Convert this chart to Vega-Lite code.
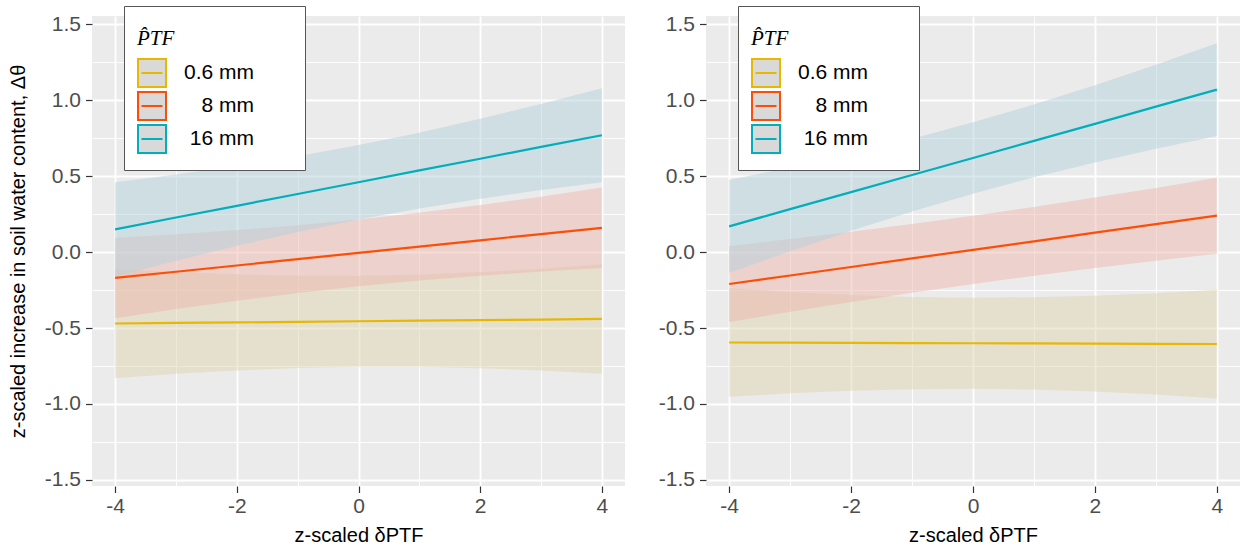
{
  "$schema": "https://vega.github.io/schema/vega-lite/v6.json",
  "background": "white",
  "padding": {"left": 8, "top": 5, "right": 0, "bottom": 0},
  "datasets": {
    "d": [
      {"p": "a", "g": "0.6 mm", "x": -4, "fit": -0.47, "lo": -0.83, "hi": -0.11},
      {"p": "a", "g": "0.6 mm", "x": -3, "fit": -0.466, "lo": -0.801, "hi": -0.131},
      {"p": "a", "g": "0.6 mm", "x": -2, "fit": -0.463, "lo": -0.779, "hi": -0.146},
      {"p": "a", "g": "0.6 mm", "x": -1, "fit": -0.459, "lo": -0.763, "hi": -0.155},
      {"p": "a", "g": "0.6 mm", "x": 0, "fit": -0.455, "lo": -0.755, "hi": -0.155},
      {"p": "a", "g": "0.6 mm", "x": 1, "fit": -0.451, "lo": -0.755, "hi": -0.147},
      {"p": "a", "g": "0.6 mm", "x": 2, "fit": -0.448, "lo": -0.764, "hi": -0.131},
      {"p": "a", "g": "0.6 mm", "x": 3, "fit": -0.444, "lo": -0.779, "hi": -0.109},
      {"p": "a", "g": "0.6 mm", "x": 4, "fit": -0.44, "lo": -0.8, "hi": -0.08},
      {"p": "a", "g": "8 mm", "x": -4, "fit": -0.17, "lo": -0.435, "hi": 0.095},
      {"p": "a", "g": "8 mm", "x": -3, "fit": -0.129, "lo": -0.375, "hi": 0.118},
      {"p": "a", "g": "8 mm", "x": -2, "fit": -0.088, "lo": -0.32, "hi": 0.145},
      {"p": "a", "g": "8 mm", "x": -1, "fit": -0.046, "lo": -0.269, "hi": 0.177},
      {"p": "a", "g": "8 mm", "x": 0, "fit": -0.005, "lo": -0.225, "hi": 0.215},
      {"p": "a", "g": "8 mm", "x": 1, "fit": 0.036, "lo": -0.187, "hi": 0.259},
      {"p": "a", "g": "8 mm", "x": 2, "fit": 0.078, "lo": -0.155, "hi": 0.31},
      {"p": "a", "g": "8 mm", "x": 3, "fit": 0.119, "lo": -0.128, "hi": 0.365},
      {"p": "a", "g": "8 mm", "x": 4, "fit": 0.16, "lo": -0.105, "hi": 0.425},
      {"p": "a", "g": "16 mm", "x": -4, "fit": 0.15, "lo": -0.16, "hi": 0.46},
      {"p": "a", "g": "16 mm", "x": -3, "fit": 0.228, "lo": -0.056, "hi": 0.511},
      {"p": "a", "g": "16 mm", "x": -2, "fit": 0.305, "lo": 0.042, "hi": 0.568},
      {"p": "a", "g": "16 mm", "x": -1, "fit": 0.383, "lo": 0.133, "hi": 0.632},
      {"p": "a", "g": "16 mm", "x": 0, "fit": 0.46, "lo": 0.215, "hi": 0.705},
      {"p": "a", "g": "16 mm", "x": 1, "fit": 0.538, "lo": 0.288, "hi": 0.787},
      {"p": "a", "g": "16 mm", "x": 2, "fit": 0.615, "lo": 0.352, "hi": 0.878},
      {"p": "a", "g": "16 mm", "x": 3, "fit": 0.693, "lo": 0.409, "hi": 0.976},
      {"p": "a", "g": "16 mm", "x": 4, "fit": 0.77, "lo": 0.46, "hi": 1.08},
      {"p": "b", "g": "0.6 mm", "x": -4, "fit": -0.595, "lo": -0.953, "hi": -0.237},
      {"p": "b", "g": "0.6 mm", "x": -3, "fit": -0.596, "lo": -0.93, "hi": -0.262},
      {"p": "b", "g": "0.6 mm", "x": -2, "fit": -0.598, "lo": -0.913, "hi": -0.282},
      {"p": "b", "g": "0.6 mm", "x": -1, "fit": -0.599, "lo": -0.903, "hi": -0.295},
      {"p": "b", "g": "0.6 mm", "x": 0, "fit": -0.6, "lo": -0.9, "hi": -0.3},
      {"p": "b", "g": "0.6 mm", "x": 1, "fit": -0.601, "lo": -0.905, "hi": -0.297},
      {"p": "b", "g": "0.6 mm", "x": 2, "fit": -0.603, "lo": -0.918, "hi": -0.287},
      {"p": "b", "g": "0.6 mm", "x": 3, "fit": -0.604, "lo": -0.938, "hi": -0.27},
      {"p": "b", "g": "0.6 mm", "x": 4, "fit": -0.605, "lo": -0.963, "hi": -0.247},
      {"p": "b", "g": "8 mm", "x": -4, "fit": -0.21, "lo": -0.46, "hi": 0.04},
      {"p": "b", "g": "8 mm", "x": -3, "fit": -0.154, "lo": -0.393, "hi": 0.086},
      {"p": "b", "g": "8 mm", "x": -2, "fit": -0.098, "lo": -0.329, "hi": 0.134},
      {"p": "b", "g": "8 mm", "x": -1, "fit": -0.041, "lo": -0.268, "hi": 0.185},
      {"p": "b", "g": "8 mm", "x": 0, "fit": 0.015, "lo": -0.21, "hi": 0.24},
      {"p": "b", "g": "8 mm", "x": 1, "fit": 0.071, "lo": -0.155, "hi": 0.298},
      {"p": "b", "g": "8 mm", "x": 2, "fit": 0.128, "lo": -0.104, "hi": 0.359},
      {"p": "b", "g": "8 mm", "x": 3, "fit": 0.184, "lo": -0.056, "hi": 0.423},
      {"p": "b", "g": "8 mm", "x": 4, "fit": 0.24, "lo": -0.01, "hi": 0.49},
      {"p": "b", "g": "16 mm", "x": -4, "fit": 0.17, "lo": -0.135, "hi": 0.475},
      {"p": "b", "g": "16 mm", "x": -3, "fit": 0.283, "lo": 0.006, "hi": 0.559},
      {"p": "b", "g": "16 mm", "x": -2, "fit": 0.395, "lo": 0.141, "hi": 0.649},
      {"p": "b", "g": "16 mm", "x": -1, "fit": 0.508, "lo": 0.268, "hi": 0.747},
      {"p": "b", "g": "16 mm", "x": 0, "fit": 0.62, "lo": 0.385, "hi": 0.855},
      {"p": "b", "g": "16 mm", "x": 1, "fit": 0.733, "lo": 0.493, "hi": 0.972},
      {"p": "b", "g": "16 mm", "x": 2, "fit": 0.845, "lo": 0.591, "hi": 1.099},
      {"p": "b", "g": "16 mm", "x": 3, "fit": 0.958, "lo": 0.681, "hi": 1.234},
      {"p": "b", "g": "16 mm", "x": 4, "fit": 1.07, "lo": 0.765, "hi": 1.375}
    ]
  },
  "data": {"name": "d"},
  "spacing": 33,
  "resolve": {"scale": {"color": "independent", "fill": "independent"}},
  "config": {
    "view": {"fill": "#ebebeb", "stroke": null},
    "axis": {
      "labelFont": "Liberation Sans", "titleFont": "Liberation Sans",
      "labelFontSize": 21, "labelColor": "#4d4d4d",
      "titleFontSize": 20, "titleColor": "#000000", "titleFontWeight": "normal",
      "tickColor": "#333333", "tickSize": 6.5, "tickWidth": 1.2,
      "domain": false, "gridColor": "#ffffff", "gridWidth": 1.8, "gridOpacity": 1
    },
    "legend": {
      "orient": "none", "legendY": -10,
      "titleFont": "Liberation Serif", "titleFontStyle": "italic", "titleFontSize": 21, "titleFontWeight": "normal", "titleColor": "#000000",
      "titleBaseline": "line-top", "titleLineHeight": 40, "titlePadding": 18,
      "symbolType": "M-1,-1H1V1H-1Z M-0.75,0H0.75 M9.7,0", "symbolSize": 784, "symbolFillColor": "#d9d9d9", "symbolStrokeWidth": 2,
      "labelFont": "Liberation Sans", "labelFontSize": 21, "labelColor": "#000000", "labelAlign": "right", "labelOffset": 87, "rowPadding": -5.5,
      "padding": 13, "fillColor": "#ffffff", "strokeColor": "#555555"
    }
  },
  "hconcat": [
    {
      "width": 533, "height": 470,
      "transform": [{"filter": "datum.p == 'a'"}],
      "layer": [
        {
          "mark": {"type": "area", "opacity": 0.5},
          "encoding": {
            "x": {"field": "x", "type": "quantitative",
              "scale": {"domain": [-4.38, 4.38], "nice": false, "zero": false},
              "axis": {"values": [-4, -2, 0, 2, 4], "format": "d", "grid": true, "title": "z-scaled δPTF", "labelPadding": 3, "titlePadding": 9, "labelExpr": "replace(datum.label, '\u2212', '-')"}},
            "y": {"field": "lo", "type": "quantitative",
              "scale": {"domain": [-1.54, 1.555], "nice": false, "zero": false},
              "axis": {"values": [-1.5, -1, -0.5, 0, 0.5, 1, 1.5], "format": ".1f", "grid": true, "title": "z-scaled increase in soil water content, Δθ", "labelPadding": 5, "titlePadding": 16, "labelExpr": "replace(datum.label, '\u2212', '-')"}},
            "y2": {"field": "hi"},
            "fill": {"field": "g", "type": "nominal",
              "scale": {"domain": ["16 mm", "8 mm", "0.6 mm"], "range": ["#b3d1db", "#edb7af", "#dfd3af"]},
              "legend": null}
          }
        },
        {
          "mark": {"type": "line", "strokeWidth": 2.2},
          "encoding": {
            "x": {"field": "x", "type": "quantitative",
              "axis": {"orient": "top", "values": [-3, -1, 1, 3], "grid": true, "gridWidth": 0.9, "labels": false, "ticks": false, "title": null}},
            "y": {"field": "fit", "type": "quantitative",
              "axis": {"orient": "right", "values": [-1.25, -0.75, -0.25, 0.25, 0.75, 1.25], "grid": true, "gridWidth": 0.9, "labels": false, "ticks": false, "title": null}},
            "color": {"field": "g", "type": "nominal",
              "scale": {"domain": ["0.6 mm", "8 mm", "16 mm"], "range": ["#E7B800", "#FC4E07", "#00AFBB"]},
              "legend": {"legendX": 32, "title": "P̂TF"}}
          }
        }
      ],
      "resolve": {"axis": {"x": "independent", "y": "independent"}}
    },
    {
      "width": 534, "height": 470,
      "transform": [{"filter": "datum.p == 'b'"}],
      "layer": [
        {
          "mark": {"type": "area", "opacity": 0.5},
          "encoding": {
            "x": {"field": "x", "type": "quantitative",
              "scale": {"domain": [-4.38, 4.38], "nice": false, "zero": false},
              "axis": {"values": [-4, -2, 0, 2, 4], "format": "d", "grid": true, "title": "z-scaled δPTF", "labelPadding": 3, "titlePadding": 9, "labelExpr": "replace(datum.label, '\u2212', '-')"}},
            "y": {"field": "lo", "type": "quantitative",
              "scale": {"domain": [-1.54, 1.555], "nice": false, "zero": false},
              "axis": {"values": [-1.5, -1, -0.5, 0, 0.5, 1, 1.5], "format": ".1f", "grid": true, "title": null, "labelPadding": 5, "labelExpr": "replace(datum.label, '\u2212', '-')"}},
            "y2": {"field": "hi"},
            "fill": {"field": "g", "type": "nominal",
              "scale": {"domain": ["16 mm", "8 mm", "0.6 mm"], "range": ["#b3d1db", "#edb7af", "#dfd3af"]},
              "legend": null}
          }
        },
        {
          "mark": {"type": "line", "strokeWidth": 2.2},
          "encoding": {
            "x": {"field": "x", "type": "quantitative",
              "axis": {"orient": "top", "values": [-3, -1, 1, 3], "grid": true, "gridWidth": 0.9, "labels": false, "ticks": false, "title": null}},
            "y": {"field": "fit", "type": "quantitative",
              "axis": {"orient": "right", "values": [-1.25, -0.75, -0.25, 0.25, 0.75, 1.25], "grid": true, "gridWidth": 0.9, "labels": false, "ticks": false, "title": null}},
            "color": {"field": "g", "type": "nominal",
              "scale": {"domain": ["0.6 mm", "8 mm", "16 mm"], "range": ["#E7B800", "#FC4E07", "#00AFBB"]},
              "legend": {"legendX": 32, "title": "P̂TF"}}
          }
        }
      ],
      "resolve": {"axis": {"x": "independent", "y": "independent"}}
    }
  ]
}
